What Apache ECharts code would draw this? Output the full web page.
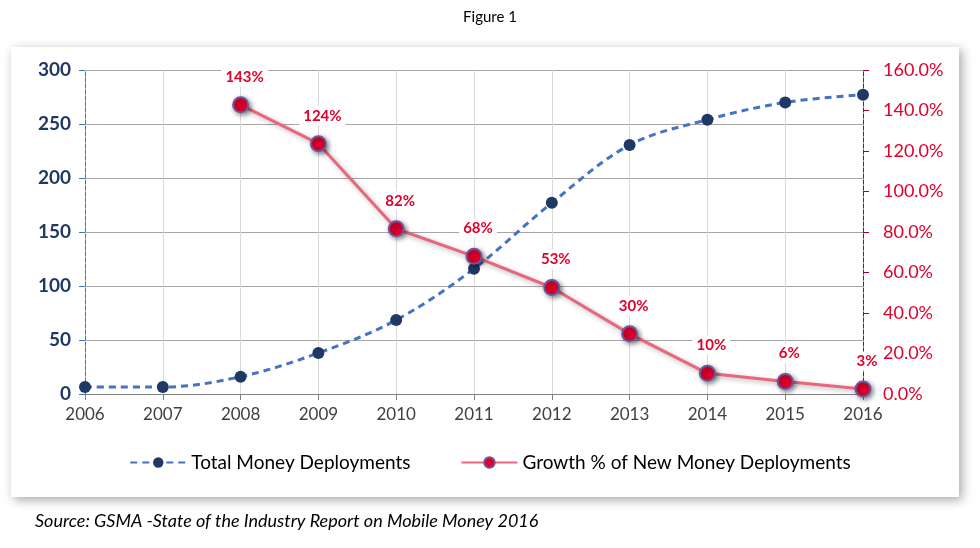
<!DOCTYPE html>
<html><head><meta charset="utf-8">
<script src="https://cdn.jsdelivr.net/npm/echarts@6/dist/echarts.min.js"></script>
<style>html,body{margin:0;padding:0;background:#fff}#c{width:980px;height:548px}</style>
</head><body><div id="c"></div>
<script>
const years = ['2006','2007','2008','2009','2010','2011','2012','2013','2014','2015','2016'];
const totalDeployments = [6.5, 6.5, 16, 38, 68.5, 116, 177, 230.5, 254, 270, 277];
const growthPct = [null, null, 142.8, 123.6, 81.6, 68.0, 52.6, 29.7, 10.2, 6.2, 2.5];
const leftTicks = [0, 300, 50];
const rightTicks = [0, 160, 20];
const FONT = 'Lato, "Open Sans", sans-serif';

const chart = echarts.init(document.getElementById('c'));
chart.setOption({
  animation: false,
  backgroundColor: '#fff',
  graphic: [
    {type:'rect', shape:{x:11,y:47,width:948,height:450}, style:{fill:'#fff', shadowBlur:10, shadowColor:'rgba(0,0,0,0.35)', shadowOffsetX:3, shadowOffsetY:3}, z:-10, silent:true},
    {type:'text', left:'center', top:10, style:{text:'Figure 1', font:'15px ' + FONT, fill:'#000'}},
    {type:'text', left:35, top:512, style:{text:'Source: GSMA -State of the Industry Report on Mobile Money 2016', font:'italic 18px ' + FONT, fill:'#000'}}
  ],
  grid: {left:85, right:117, top:70, bottom:154},
  legend: {
    bottom: 71, left: 'center', itemWidth: 56, itemHeight: 13, itemGap: 50,
    textStyle: {fontFamily: FONT, fontSize: 19, color: '#000'},
    data: ['Total Money Deployments', 'Growth % of New Money Deployments']
  },
  xAxis: {
    type:'category', data: years, boundaryGap:false,
    axisLine:{lineStyle:{color:'#808080', width:1}},
    axisTick:{show:true, length:6, lineStyle:{color:'#808080'}},
    axisLabel:{color:'#404040', fontSize:17, fontFamily:FONT, margin:12},
    splitLine:{show:true, lineStyle:{color:'#D9D9D9'}}
  },
  yAxis: [
    {type:'value', min:leftTicks[0], max:leftTicks[1], interval:leftTicks[2],
     axisLine:{show:true, lineStyle:{color:'#4472C4', type:'dashed', width:1}},
     axisTick:{show:true, length:6, lineStyle:{color:'#4472C4', type:'solid'}},
     axisLabel:{color:'#1F3864', fontWeight:'bold', fontSize:19, fontFamily:FONT, margin:14},
     splitLine:{show:true, lineStyle:{color:'#A6A6A6'}}},
    {type:'value', min:rightTicks[0], max:rightTicks[1], interval:rightTicks[2],
     axisLine:{show:true, lineStyle:{color:'#A50021', type:'dashed', width:1}},
     axisTick:{show:true, length:6, lineStyle:{color:'#A50021', type:'solid'}},
     axisLabel:{color:'#E0002A', fontSize:18, fontFamily:FONT, margin:20, formatter: v => v.toFixed(1) + '%'},
     splitLine:{show:false}}
  ],
  series: [
    {name:'Total Money Deployments', type:'line', yAxisIndex:0, data: totalDeployments, smooth:0.35,
     lineStyle:{color:'#4472C4', width:3, type:[7,5]},
     symbol:'circle', symbolSize:12, itemStyle:{color:'#1F3864'}, z:2},
    {name:'Growth % of New Money Deployments', type:'line', yAxisIndex:1, data: growthPct,
     lineStyle:{color:'#E8677E', width:3, shadowBlur:5, shadowColor:'rgba(0,0,0,0.3)', shadowOffsetX:2, shadowOffsetY:2},
     symbol:'circle', symbolSize:15,
     itemStyle:{color:'#E0002A', borderColor:'#6F55A0', borderWidth:2, shadowBlur:5, shadowColor:'rgba(0,0,0,0.45)', shadowOffsetX:2, shadowOffsetY:2},
     label:{show:true, position:'top', distance:10, offset:[4,0], color:'#E0002A', fontWeight:'bold', fontSize:15, fontFamily:FONT,
       backgroundColor:'#fff', padding:[2,4], formatter: p => Math.round(p.value) + '%'},
     z:3}
  ]
});
</script></body></html>
